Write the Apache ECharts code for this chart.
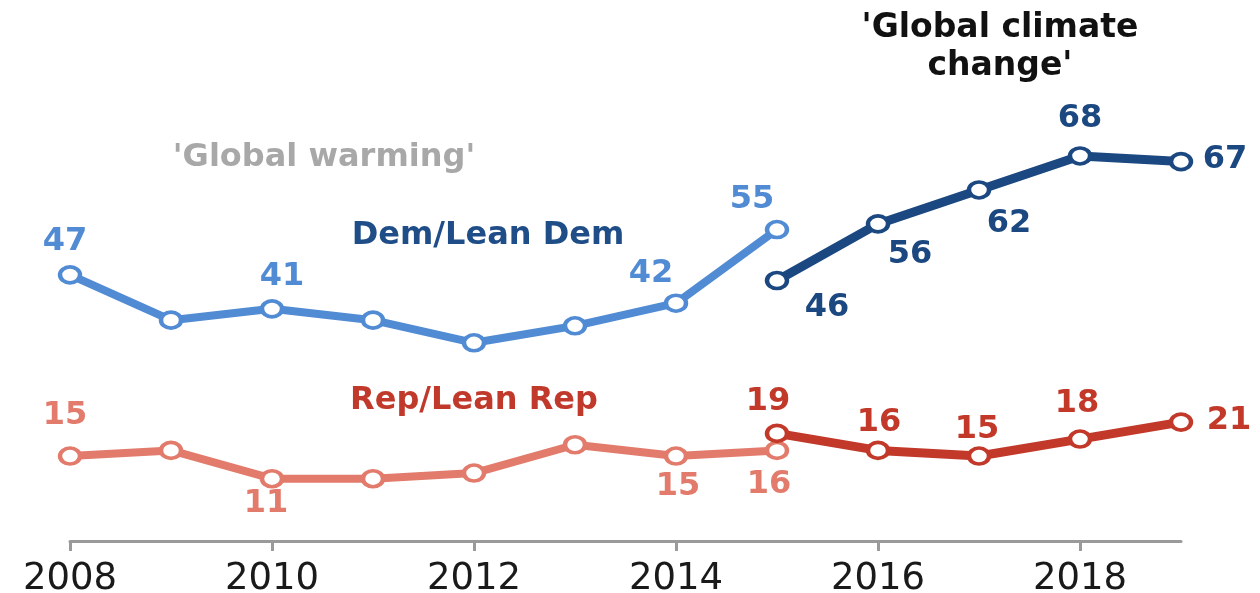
<!DOCTYPE html>
<html>
<head>
<meta charset="utf-8">
<script src="https://cdn.jsdelivr.net/npm/echarts@6/dist/echarts.min.js"></script>
<style>
  html, body { margin: 0; padding: 0; background: #fff; }
  #chart { width: 1260px; height: 593px; }
</style>
</head>
<body>
<div id="chart"></div>
<script>
  // x axis categories
  const years = ['2008', '2009', '2010', '2011', '2012', '2013', '2014', '2015', '2016', '2017', '2018', '2019'];
  // 'Global warming' question, 2008-2015
  const warmingYears = ['2008', '2009', '2010', '2011', '2012', '2013', '2014', '2015'];
  const demWarming = [47, 39, 41, 39, 35, 38, 42, 55];
  const repWarming = [15, 16, 11, 11, 12, 17, 15, 16];
  // 'Global climate change' question, 2015-2019
  const climateYears = ['2015', '2016', '2017', '2018', '2019'];
  const demClimate = [46, 56, 62, 68, 67];
  const repClimate = [19, 16, 15, 18, 21];

  // which points get a value label, and where it sits relative to the marker
  const demWarmingLabels = {0: [-5, -33], 2: [10, -32], 6: [-25, -29], 7: [-25, -30]};
  const repWarmingLabels = {0: [-5, -40], 2: [-6, 25], 6: [2, 31], 7: [-8, 34]};
  const demClimateLabels = {0: [50, 27], 1: [32, 31], 2: [30, 34], 3: [0, -37], 4: [44, -2]};
  const repClimateLabels = {0: [-9, -32], 1: [1, -28], 2: [-2, -26], 3: [-3, -35], 4: [48, -1]};

  const FONT = 'DejaVu Sans';
  const LIGHT_BLUE = '#508bd4';
  const DARK_BLUE = '#1b4880';
  const LIGHT_RED = '#e27b6b';
  const DARK_RED = '#c2392a';

  function makeSeries(name, cats, values, color, width, labels) {
    return {
      name: name,
      type: 'line',
      symbol: 'circle',
      symbolSize: [20, 16],
      lineStyle: {color: color, width: width},
      itemStyle: {color: '#fff', borderColor: color, borderWidth: 4},
      emphasis: {disabled: true},
      data: values.map((v, i) => {
        const item = {value: [cats[i], v]};
        if (labels[i]) {
          item.label = {
            show: true,
            position: 'inside',
            offset: labels[i],
            formatter: '{@[1]}',
            color: color,
            fontFamily: FONT,
            fontWeight: 'bold',
            fontSize: 32
          };
        }
        return item;
      })
    };
  }

  const chart = echarts.init(document.getElementById('chart'));
  chart.setOption({
    animation: false,
    grid: {left: 70, right: 79, top: 88, bottom: 52, outerBoundsMode: 'none'},
    xAxis: {
      type: 'category',
      data: years,
      boundaryGap: false,
      axisLine: {lineStyle: {color: '#9a9a9a', width: 3}},
      axisTick: {show: true, interval: 1, length: 10, lineStyle: {color: '#9a9a9a', width: 3}},
      axisLabel: {interval: 1, fontSize: 37, fontFamily: FONT, color: '#1a1a1a', margin: 20}
    },
    yAxis: {type: 'value', min: 0, max: 80, show: false},
    series: [
      makeSeries('Dem warming', warmingYears, demWarming, LIGHT_BLUE, 8, demWarmingLabels),
      makeSeries('Rep warming', warmingYears, repWarming, LIGHT_RED, 8, repWarmingLabels),
      makeSeries('Dem climate', climateYears, demClimate, DARK_BLUE, 9, demClimateLabels),
      makeSeries('Rep climate', climateYears, repClimate, DARK_RED, 9, repClimateLabels)
    ],
    graphic: [
      {type: 'text', x: 324, y: 158, style: {text: "'Global warming'", fill: '#a8a8a8',
        font: 'bold 32px "DejaVu Sans"', textAlign: 'center', textVerticalAlign: 'middle'}},
      {type: 'text', x: 488, y: 236, style: {text: 'Dem/Lean Dem', fill: '#1f4d87',
        font: 'bold 32px "DejaVu Sans"', textAlign: 'center', textVerticalAlign: 'middle'}},
      {type: 'text', x: 474, y: 401, style: {text: 'Rep/Lean Rep', fill: '#c0392b',
        font: 'bold 32px "DejaVu Sans"', textAlign: 'center', textVerticalAlign: 'middle'}},
      {type: 'text', x: 1000, y: 47, style: {text: "'Global climate\nchange'", fill: '#111',
        font: 'bold 33px "DejaVu Sans"', lineHeight: 38, textAlign: 'center', textVerticalAlign: 'middle'}}
    ]
  });
</script>
</body>
</html>
